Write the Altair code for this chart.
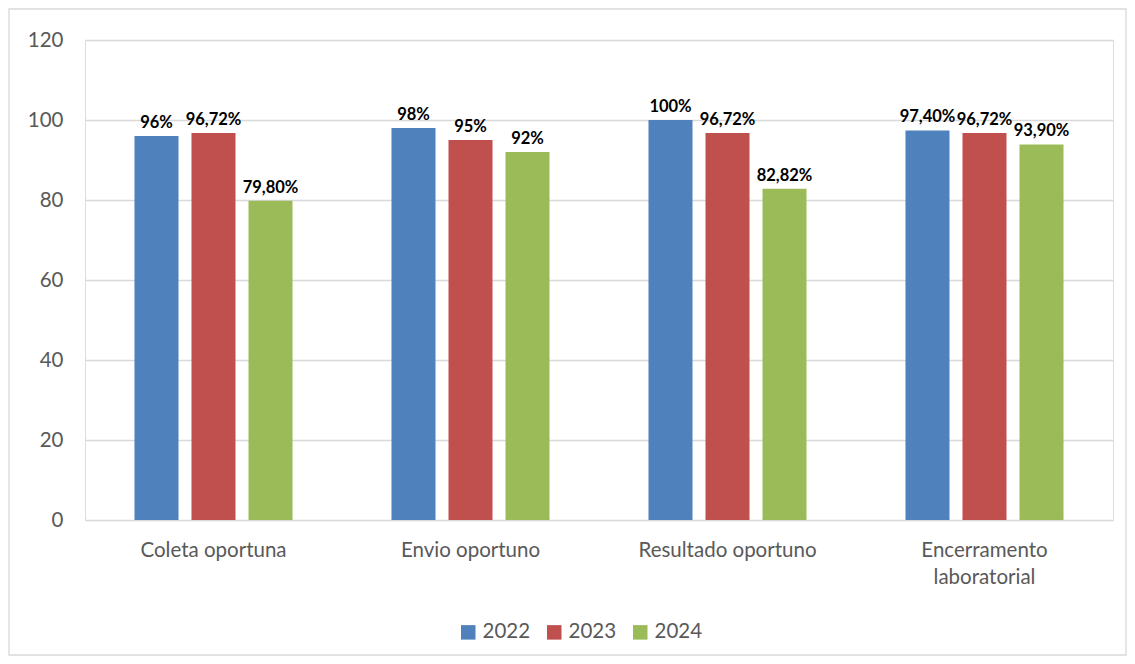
import altair as alt
import pandas as pd

categories = ["Coleta oportuna", "Envio oportuno", "Resultado oportuno", "Encerramento laboratorial"]
years = ["2022", "2023", "2024"]
values_2022 = [96, 98, 100, 97.40]
values_2023 = [96.72, 95, 96.72, 96.72]
values_2024 = [79.80, 92, 82.82, 93.90]
labels_2022 = ["96%", "98%", "100%", "97,40%"]
labels_2023 = ["96,72%", "95%", "96,72%", "96,72%"]
labels_2024 = ["79,80%", "92%", "82,82%", "93,90%"]
colors = ["#4F81BD", "#C0504D", "#9BBB59"]

rows = []
for vals, labs, yr in [(values_2022, labels_2022, "2022"), (values_2023, labels_2023, "2023"), (values_2024, labels_2024, "2024")]:
    for c, v, l in zip(categories, vals, labs):
        rows.append({"cat": c, "year": yr, "value": v, "label": l})
df = pd.DataFrame(rows)

FONT = "Lato"

x = alt.X("cat:N", sort=categories, title=None,
          scale=alt.Scale(paddingInner=0, paddingOuter=0),
          axis=alt.Axis(labelAngle=0, labelFontSize=20.5, labelColor="#595959", labelFont=FONT,
                        labelPadding=20, labelLineHeight=27, ticks=False, domain=False,
                        labelExpr="datum.value == 'Encerramento laboratorial' ? ['Encerramento', 'laboratorial'] : datum.value"))
xo = alt.XOffset("year:N", sort=years, scale=alt.Scale(paddingInner=0.228, paddingOuter=0.868))
y = alt.Y("value:Q", title=None,
          scale=alt.Scale(domain=[0, 120], nice=False),
          axis=alt.Axis(values=[0, 20, 40, 60, 80, 100, 120], labelFontSize=20.5, labelColor="#595959",
                        labelFont=FONT, labelPadding=22, ticks=False, domain=False,
                        gridColor="#d9d9d9", gridWidth=1.3))
color = alt.Color("year:N", sort=years, scale=alt.Scale(domain=years, range=colors),
                  legend=alt.Legend(title=None, orient="none", legendX=373, legendY=582,
                                    direction="horizontal", symbolType="square", symbolSize=210,
                                    symbolStrokeWidth=0, labelFontSize=20.5, labelColor="#595959",
                                    labelFont=FONT, columnPadding=13, labelOffset=4))

bars = alt.Chart(df).mark_bar().encode(x=x, xOffset=xo, y=y, color=color)
text = alt.Chart(df).mark_text(baseline="bottom", dy=-5, fontSize=16.5, fontWeight="bold",
                               font=FONT, color="#000000").encode(
    x=alt.X("cat:N", sort=categories), xOffset=alt.XOffset("year:N", sort=years), y="value:Q", text="label:N")

border = alt.Chart(pd.DataFrame({"a": [0]})).mark_rect(fill=None, stroke="#d9d9d9", strokeWidth=1.3).encode(
    x=alt.value(-76), x2=alt.value(1041), y=alt.value(-31), y2=alt.value(615))

chart = alt.layer(bars, text, border).properties(
    width=1028, height=480,
    autosize=alt.AutoSizeParams(type="none"),
    padding={"left": 77, "top": 32, "right": 14, "bottom": 136},
).configure_view(stroke=None).configure(background="white")

chart.save("out.html", embed_options={"renderer": "svg", "actions": False})
